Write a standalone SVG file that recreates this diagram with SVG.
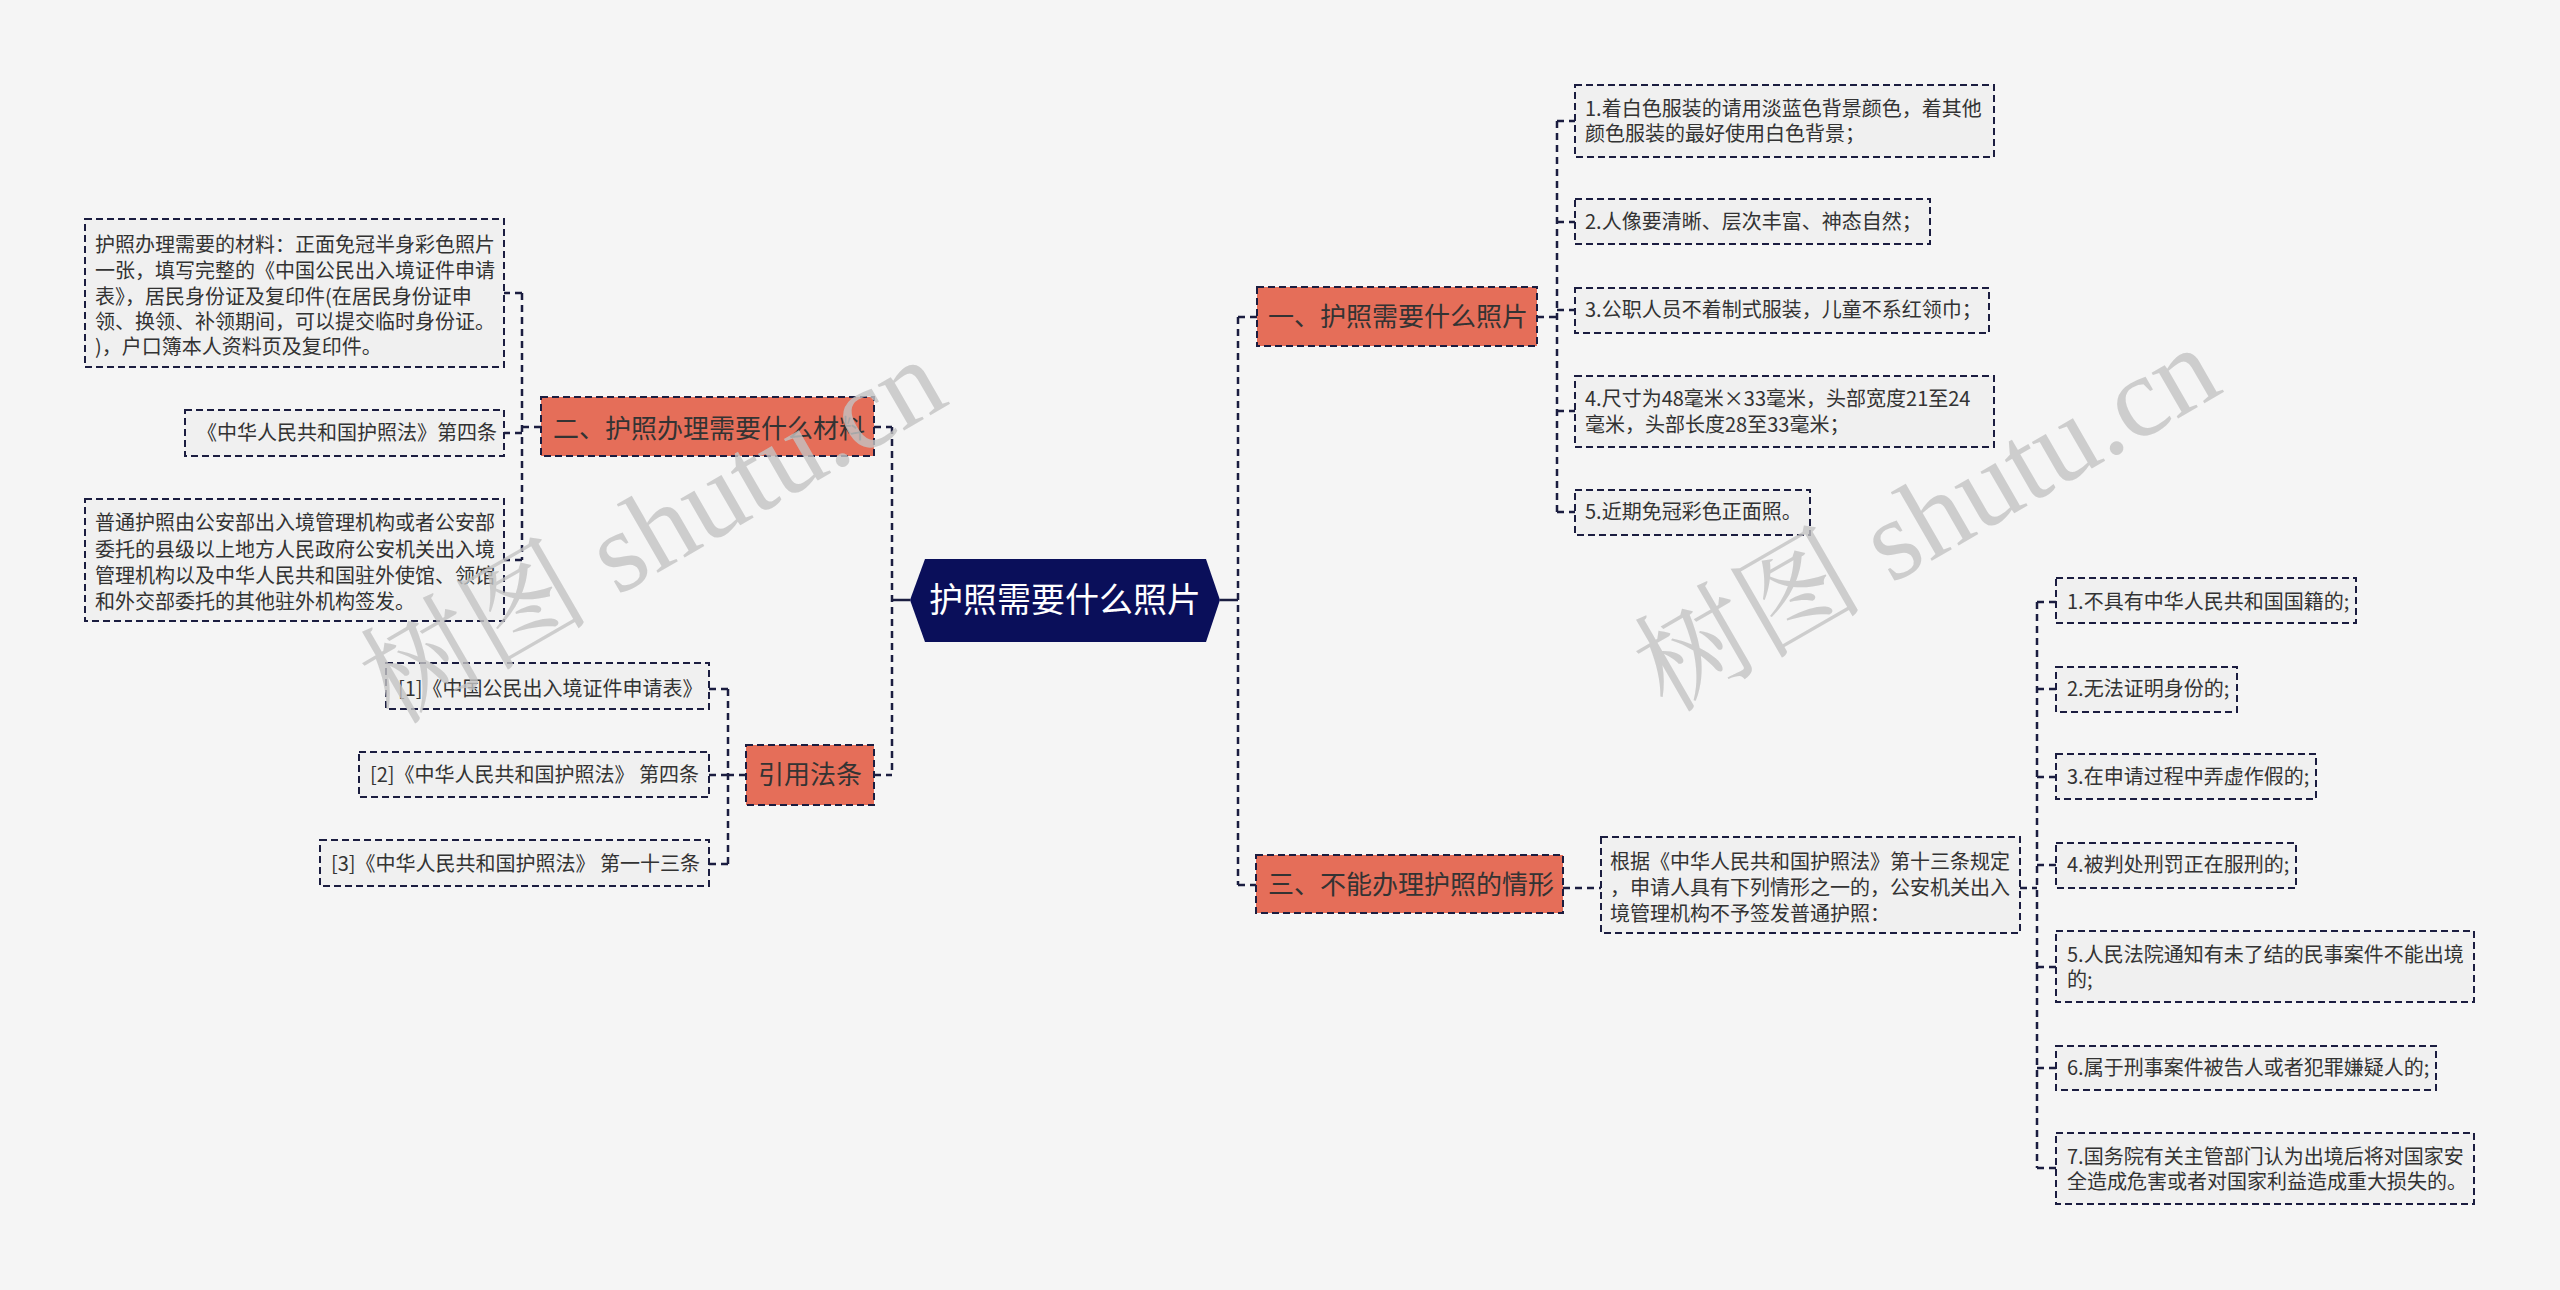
<svg xmlns="http://www.w3.org/2000/svg" width="2560" height="1290" viewBox="0 0 2560 1290">
<style>
.bg{fill:#f5f5f5}
.leaf{fill:#f0f0f0;stroke:#1b1d40;stroke-width:2;stroke-dasharray:7 4}
.branch{fill:#e56e59;stroke:#1b1d40;stroke-width:2;stroke-dasharray:7 4}
.root{fill:#0a0f5a}
.t{font-family:"Noto Sans CJK SC","Noto Sans",sans-serif;font-size:20px;fill:#333}
.tb{font-family:"Noto Sans CJK SC","Noto Sans",sans-serif;font-size:26px;fill:#333}
.tr{font-family:"Noto Sans CJK SC","Noto Sans",sans-serif;font-size:34px;fill:#fff}
.c{fill:none;stroke:#1b1d40;stroke-width:2.5;stroke-dasharray:7 5}
.cs{fill:none;stroke:#1b1d40;stroke-width:2.5}
.wm{font-family:"Liberation Serif","Noto Serif CJK SC","Noto Sans CJK SC",serif;font-size:115px;fill:#c4c4c4;opacity:.8}
</style>
<rect class="bg" x="0" y="0" width="2560" height="1290"/>

<g id="connectors">
<path class="cs" d="M910,600 H892"/>
<path class="c" d="M892,427 V775"/>
<path class="c" d="M874,427 H892"/>
<path class="c" d="M874,775 H892"/>
<path class="cs" d="M1220,600 H1238"/>
<path class="c" d="M1238,317 V885"/>
<path class="c" d="M1238,317 H1257"/>
<path class="c" d="M1238,885 H1256"/>
<path class="c" d="M522,293 V560"/>
<path class="c" d="M541,427 H522"/>
<path class="c" d="M522,293 H504"/>
<path class="c" d="M522,433 H504"/>
<path class="c" d="M522,560 H504"/>
<path class="c" d="M728,689 V864"/>
<path class="c" d="M746,775 H728"/>
<path class="c" d="M728,689 H709"/>
<path class="c" d="M728,775 H709"/>
<path class="c" d="M728,864 H709"/>
<path class="c" d="M1557,121 V512"/>
<path class="c" d="M1537,317 H1557"/>
<path class="c" d="M1557,121 H1575"/>
<path class="c" d="M1557,222 H1575"/>
<path class="c" d="M1557,310 H1575"/>
<path class="c" d="M1557,411 H1575"/>
<path class="c" d="M1557,512 H1575"/>
<path class="c" d="M1563,888 H1601"/>
<path class="c" d="M2037,602 V1168"/>
<path class="c" d="M2020,888 H2037"/>
<path class="c" d="M2037,602 H2056"/>
<path class="c" d="M2037,689 H2056"/>
<path class="c" d="M2037,777 H2056"/>
<path class="c" d="M2037,865 H2056"/>
<path class="c" d="M2037,967 H2056"/>
<path class="c" d="M2037,1068 H2056"/>
<path class="c" d="M2037,1168 H2056"/>
</g>

<g id="root">
<polygon class="root" points="925,559 1206,559 1220,600 1206,642 925,642 910,600"/>
<text class="tr" x="1065" y="612" text-anchor="middle">护照需要什么照片</text>
</g>

<g id="b2">
<rect class="branch" x="541" y="397" width="333" height="59"/>
<text class="tb" x="553" y="438">二、护照办理需要什么材料</text>
</g>
<g id="b2c1">
<rect class="leaf" x="85" y="219" width="419" height="148"/>
<text class="t" x="95" y="252">护照办理需要的材料：正面免冠半身彩色照片</text>
<text class="t" x="95" y="278">一张，填写完整的《中国公民出入境证件申请</text>
<text class="t" x="95" y="304">表》，居民身份证及复印件(在居民身份证申</text>
<text class="t" x="95" y="329">领、换领、补领期间，可以提交临时身份证。</text>
<text class="t" x="95" y="354">)，户口簿本人资料页及复印件。</text>
</g>
<g id="b2c2">
<rect class="leaf" x="185" y="410" width="319" height="46"/>
<text class="t" x="197" y="440">《中华人民共和国护照法》第四条</text>
</g>
<g id="b2c3">
<rect class="leaf" x="85" y="499" width="419" height="122"/>
<text class="t" x="95" y="530">普通护照由公安部出入境管理机构或者公安部</text>
<text class="t" x="95" y="557">委托的县级以上地方人民政府公安机关出入境</text>
<text class="t" x="95" y="583">管理机构以及中华人民共和国驻外使馆、领馆</text>
<text class="t" x="95" y="609">和外交部委托的其他驻外机构签发。</text>
</g>

<g id="b4">
<rect class="branch" x="746" y="745" width="128" height="60"/>
<text class="tb" x="810" y="784" text-anchor="middle">引用法条</text>
</g>
<g id="b4c1">
<rect class="leaf" x="386" y="663" width="323" height="46"/>
<text class="t" x="398" y="696">[1]《中国公民出入境证件申请表》</text>
</g>
<g id="b4c2">
<rect class="leaf" x="359" y="752" width="350" height="45"/>
<text class="t" x="370" y="782">[2]《中华人民共和国护照法》 第四条</text>
</g>
<g id="b4c3">
<rect class="leaf" x="320" y="840" width="389" height="46"/>
<text class="t" x="331" y="871">[3]《中华人民共和国护照法》 第一十三条</text>
</g>

<g id="b1">
<rect class="branch" x="1257" y="287" width="280" height="59"/>
<text class="tb" x="1268" y="326">一、护照需要什么照片</text>
</g>
<g id="b1c1">
<rect class="leaf" x="1575" y="85" width="419" height="72"/>
<text class="t" x="1585" y="116">1.着白色服装的请用淡蓝色背景颜色，着其他</text>
<text class="t" x="1585" y="141">颜色服装的最好使用白色背景；</text>
</g>
<g id="b1c2">
<rect class="leaf" x="1575" y="199" width="355" height="45"/>
<text class="t" x="1585" y="229">2.人像要清晰、层次丰富、神态自然；</text>
</g>
<g id="b1c3">
<rect class="leaf" x="1575" y="288" width="414" height="45"/>
<text class="t" x="1585" y="317">3.公职人员不着制式服装，儿童不系红领巾；</text>
</g>
<g id="b1c4">
<rect class="leaf" x="1575" y="376" width="419" height="71"/>
<text class="t" x="1585" y="406">4.尺寸为48毫米×33毫米，头部宽度21至24</text>
<text class="t" x="1585" y="432">毫米，头部长度28至33毫米；</text>
</g>
<g id="b1c5">
<rect class="leaf" x="1575" y="490" width="235" height="45"/>
<text class="t" x="1585" y="519">5.近期免冠彩色正面照。</text>
</g>

<g id="b3">
<rect class="branch" x="1256" y="855" width="307" height="58"/>
<text class="tb" x="1268" y="894">三、不能办理护照的情形</text>
</g>
<g id="b3d">
<rect class="leaf" x="1601" y="837" width="419" height="96"/>
<text class="t" x="1610" y="869">根据《中华人民共和国护照法》第十三条规定</text>
<text class="t" x="1610" y="895">，申请人具有下列情形之一的，公安机关出入</text>
<text class="t" x="1610" y="921">境管理机构不予签发普通护照：</text>
</g>
<g id="b3e1">
<rect class="leaf" x="2056" y="578" width="300" height="45"/>
<text class="t" x="2067" y="609">1.不具有中华人民共和国国籍的;</text>
</g>
<g id="b3e2">
<rect class="leaf" x="2056" y="667" width="181" height="45"/>
<text class="t" x="2067" y="696">2.无法证明身份的;</text>
</g>
<g id="b3e3">
<rect class="leaf" x="2056" y="754" width="260" height="45"/>
<text class="t" x="2067" y="784">3.在申请过程中弄虚作假的;</text>
</g>
<g id="b3e4">
<rect class="leaf" x="2056" y="843" width="240" height="45"/>
<text class="t" x="2067" y="872">4.被判处刑罚正在服刑的;</text>
</g>
<g id="b3e5">
<rect class="leaf" x="2056" y="931" width="418" height="71"/>
<text class="t" x="2067" y="962">5.人民法院通知有未了结的民事案件不能出境</text>
<text class="t" x="2067" y="987">的;</text>
</g>
<g id="b3e6">
<rect class="leaf" x="2056" y="1046" width="380" height="44"/>
<text class="t" x="2067" y="1075">6.属于刑事案件被告人或者犯罪嫌疑人的;</text>
</g>
<g id="b3e7">
<rect class="leaf" x="2056" y="1133" width="418" height="71"/>
<text class="t" x="2067" y="1164">7.国务院有关主管部门认为出境后将对国家安</text>
<text class="t" x="2067" y="1189">全造成危害或者对国家利益造成重大损失的。</text>
</g>

<text class="wm" x="653" y="531" text-anchor="middle" dominant-baseline="central" transform="rotate(-30 653 531)">树图 shutu.cn</text>
<text class="wm" x="1927" y="519" text-anchor="middle" dominant-baseline="central" transform="rotate(-30 1927 519)">树图 shutu.cn</text>
</svg>
